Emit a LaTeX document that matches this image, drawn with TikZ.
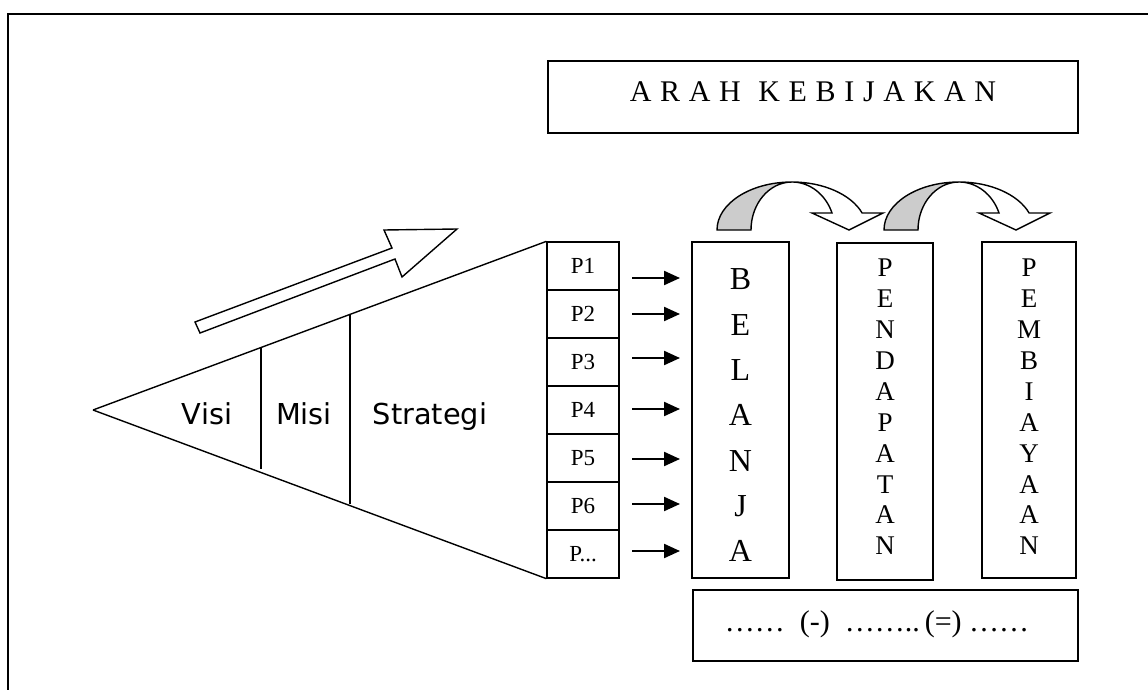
\documentclass[tikz,border=0pt]{standalone}
\usepackage{fontspec}
\setmainfont{Liberation Serif}
\newfontfamily\sansdv{DejaVu Sans}
\usetikzlibrary{arrows.meta}
\definecolor{bandgray}{RGB}{204,204,204}
\tikzset{
  frame/.style={line width=1.8pt},
  box/.style={draw, line width=1.5pt, rectangle, inner sep=0pt},
  pbox/.style={box, line width=1.3pt, minimum width=72pt, minimum height=48pt,
    font=\fontsize{23}{26}\selectfont},
  tri/.style={line width=1.4pt},
  parrow/.style={line width=2.2pt, -{Triangle[length=16pt,width=14pt]}},
  vtxt/.style={align=center, inner sep=0pt},
  sanslbl/.style={anchor=base, inner sep=0pt, font=\sansdv\fontsize{28.8}{32}\selectfont},
  hollow/.style={draw, line width=1.4pt, line join=miter, fill=white},
  curvarrow/.pic={
    \path[hollow] (792,182) arc[start angle=90,end angle=20.7,x radius=75pt,y radius=48pt]
      -- (883,213) -- (849,230) -- (812,213) -- (832,213)
      arc[start angle=20.7,end angle=90,x radius=43pt,y radius=48pt] -- cycle;
    \path[draw, line width=1.4pt, fill=bandgray] (717,230)
      arc[start angle=180,end angle=90,x radius=75pt,y radius=48pt]
      arc[start angle=90,end angle=180,x radius=41pt,y radius=48pt] -- cycle;
  }
}
\begin{document}
\begin{tikzpicture}[x=1pt,y=-1pt]
\path[use as bounding box, fill=white] (0,0) rectangle (1148,690);
\draw[frame] (8,690) -- (8,14) -- (1148,14);

% title box
\node[box, minimum width=530pt, minimum height=72pt] (arah) at (813,97) {};
\node[anchor=base, inner sep=0pt, font=\fontsize{30}{32}\selectfont\addfontfeature{LetterSpace=4}] (arahT) at (813,102)
  {A R A H \ K E B I J A K A N};

% P column
\foreach \i in {1,...,6}{
  \node[pbox] (p\i) at (583,{242+48*\i-24}) {P\i};
}
\node[pbox] (p7) at (583,554) {P...};

% triangle
\coordinate (apex) at (93,410);
\draw[tri] (apex) -- (p1.north west);
\draw[tri] (apex) -- (p7.south west);
\draw[tri] (261,348) -- (261,469);
\draw[tri] (350,315) -- (350,504);
\node[sanslbl] (visi) at (207,424) {Visi};
\node[sanslbl] (misi) at (304,424) {Misi};
\node[sanslbl] (strategi) at (430,424) {Strategi};

% hollow arrow
\path[hollow] (195,322) -- (392,248) -- (384,230) -- (457,229) -- (402,277)
  -- (395,259) -- (200,333) -- cycle;

% arrows P -> belanja
\foreach \i/\y in {1/278,2/314,3/358,4/409,5/459,6/504,7/551}{
  \coordinate (s\i) at (632,\y);
  \coordinate (e\i) at (680,\y);
  \draw[parrow] (s\i) -- (e\i);
}

% vertical boxes
\node[box, minimum width=97pt, minimum height=336pt] (belanja) at (740.5,410) {};
\node[vtxt, font=\fontsize{32}{45.33}\selectfont] (belanjaT) at (740.5,415.5)
  {B\\E\\L\\A\\N\\J\\A};
\node[box, minimum width=96pt, minimum height=337pt] (pendapatan) at (885,411.5) {};
\node[vtxt, font=\fontsize{27}{30.9}\selectfont] (pendapatanT) at (885,407)
  {P\\E\\N\\D\\A\\P\\A\\T\\A\\N};
\node[box, minimum width=94pt, minimum height=336pt] (pembiayaan) at (1029,410) {};
\node[vtxt, font=\fontsize{27}{30.9}\selectfont] (pembiayaanT) at (1029,407)
  {P\\E\\M\\B\\I\\A\\Y\\A\\A\\N};

% bottom box
\node[box, minimum width=385pt, minimum height=71pt] (hasil) at (885.5,625.5) {};
\node[anchor=base, inner sep=0pt, font=\fontsize{30}{32}\selectfont] (hasilT) at (877,631)
  {……\ \ (-)\ \ ……..\,(=)\ ……};

% curved arrows
\pic (ca1) at (0,0) {curvarrow};
\pic (ca2) at (167,0) {curvarrow};
\end{tikzpicture}
\end{document}
